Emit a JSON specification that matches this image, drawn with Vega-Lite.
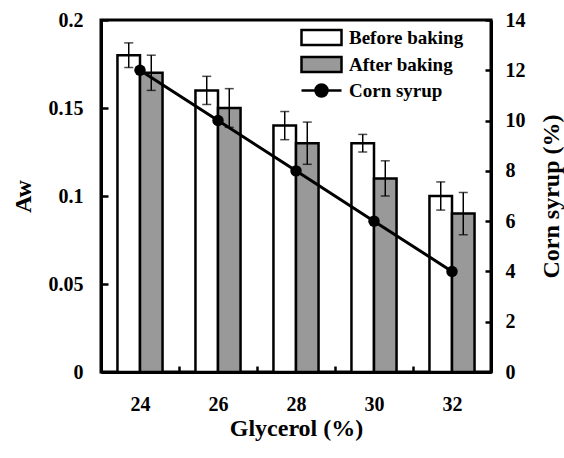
{
  "$schema": "https://vega.github.io/schema/vega-lite/v6.json",
  "width": 390,
  "height": 352,
  "autosize": {"type": "none"},
  "padding": {"left": 101, "top": 20, "right": 73, "bottom": 86},
  "config": {
    "font": "Liberation Serif",
    "view": {"stroke": "black", "strokeWidth": 3},
    "axis": {
      "labelFont": "Liberation Serif", "labelFontWeight": "bold", "labelFontSize": 20, "labelColor": "black",
      "titleFont": "Liberation Serif", "titleFontWeight": "bold", "titleFontSize": 24, "titleColor": "black",
      "domainColor": "black", "domainWidth": 3, "tickColor": "black", "tickWidth": 2.5, "grid": false
    },
    "legend": {
      "labelFont": "Liberation Serif", "labelFontWeight": "bold", "labelFontSize": 19, "labelColor": "black",
      "padding": 0
    }
  },
  "datasets": {
    "aw": [
      {"g": "24", "series": "Before baking", "aw": 0.18, "lo": 0.173, "hi": 0.187},
      {"g": "26", "series": "Before baking", "aw": 0.16, "lo": 0.152, "hi": 0.168},
      {"g": "28", "series": "Before baking", "aw": 0.14, "lo": 0.132, "hi": 0.148},
      {"g": "30", "series": "Before baking", "aw": 0.13, "lo": 0.125, "hi": 0.135},
      {"g": "32", "series": "Before baking", "aw": 0.10, "lo": 0.092, "hi": 0.108},
      {"g": "24", "series": "After baking", "aw": 0.17, "lo": 0.16, "hi": 0.18},
      {"g": "26", "series": "After baking", "aw": 0.15, "lo": 0.139, "hi": 0.161},
      {"g": "28", "series": "After baking", "aw": 0.13, "lo": 0.118, "hi": 0.142},
      {"g": "30", "series": "After baking", "aw": 0.11, "lo": 0.10, "hi": 0.12},
      {"g": "32", "series": "After baking", "aw": 0.09, "lo": 0.078, "hi": 0.102}
    ],
    "cs": [
      {"g": "24", "series": "Corn syrup", "cs": 12},
      {"g": "26", "series": "Corn syrup", "cs": 10},
      {"g": "28", "series": "Corn syrup", "cs": 8},
      {"g": "30", "series": "Corn syrup", "cs": 6},
      {"g": "32", "series": "Corn syrup", "cs": 4}
    ]
  },
  "encoding": {
    "x": {
      "field": "g", "type": "ordinal",
      "scale": {"paddingInner": 0, "paddingOuter": 0},
      "axis": {"title": "Glycerol (%)", "labelAngle": 0, "tickBand": "extent", "tickSize": -6, "labelPadding": 28, "titlePadding": 2}
    }
  },
  "layer": [
    {
      "data": {"name": "aw"},
      "encoding": {
        "xOffset": {"field": "series", "type": "nominal", "sort": ["Before baking", "After baking"], "scale": {"domain": ["Before baking", "After baking"], "paddingInner": 0, "paddingOuter": 0.73}}
      },
      "layer": [
        {
          "mark": {"type": "bar", "stroke": "black", "strokeWidth": 2.5},
          "encoding": {
            "y": {"field": "aw", "type": "quantitative", "scale": {"domain": [0, 0.2], "nice": false},
                  "axis": {"title": "Aw", "values": [0, 0.05, 0.1, 0.15, 0.2], "format": "~g", "tickSize": -7, "labelPadding": 25, "titlePadding": 13}},
            "fill": {
              "field": "series", "type": "nominal",
              "scale": {"domain": ["Before baking", "After baking", "Corn syrup"], "range": ["white", "#999999", "black"]},
              "legend": {
                "title": null, "orient": "none", "legendX": 209, "legendY": 6,
                "symbolSize": 400, "symbolStrokeColor": "black", "symbolStrokeWidth": 2.5,
                "labelOffset": 16, "rowPadding": 2,
                "encode": {"symbols": {"update": {
                  "shape": {"signal": "datum.label === 'Corn syrup' ? 'M-2,0H2M0.6,0A0.6,0.6 0 1 1 -0.6,0A0.6,0.6 0 1 1 0.6,0' : 'M-2,-0.75H2V0.75H-2Z'"},
                  "stroke": {"value": "black"}
                }}}
              }
            }
          }
        },
        {
          "mark": {"type": "rule", "color": "black", "strokeWidth": 1.5},
          "encoding": {
            "y": {"field": "lo", "type": "quantitative", "scale": {"domain": [0, 0.2], "nice": false},
                  "axis": {"title": "Aw", "values": [0, 0.05, 0.1, 0.15, 0.2], "format": "~g", "tickSize": -7, "labelPadding": 25, "titlePadding": 13}},
            "y2": {"field": "hi"}
          }
        },
        {
          "mark": {"type": "tick", "color": "black", "thickness": 1.5, "size": 9},
          "encoding": {
            "y": {"field": "hi", "type": "quantitative", "scale": {"domain": [0, 0.2], "nice": false},
                  "axis": {"title": "Aw", "values": [0, 0.05, 0.1, 0.15, 0.2], "format": "~g", "tickSize": -7, "labelPadding": 25, "titlePadding": 13}}
          }
        },
        {
          "mark": {"type": "tick", "color": "black", "thickness": 1.5, "size": 9},
          "encoding": {
            "y": {"field": "lo", "type": "quantitative", "scale": {"domain": [0, 0.2], "nice": false},
                  "axis": {"title": "Aw", "values": [0, 0.05, 0.1, 0.15, 0.2], "format": "~g", "tickSize": -7, "labelPadding": 25, "titlePadding": 13}}
          }
        }
      ]
    },
    {
      "data": {"name": "cs"},
      "encoding": {
        "y": {"field": "cs", "type": "quantitative", "scale": {"domain": [0, 14], "nice": false},
              "axis": {"orient": "right", "title": "Corn syrup (%)", "values": [0, 2, 4, 6, 8, 10, 12, 14], "tickSize": -6, "labelPadding": 20, "titlePadding": 38, "titleAngle": 270}}
      },
      "layer": [
        {"mark": {"type": "line", "color": "black", "strokeWidth": 3}},
        {"mark": {"type": "circle", "size": 130, "opacity": 1},
         "encoding": {"fill": {"field": "series", "type": "nominal"}}}
      ]
    }
  ],
  "resolve": {"scale": {"y": "independent"}}
}
